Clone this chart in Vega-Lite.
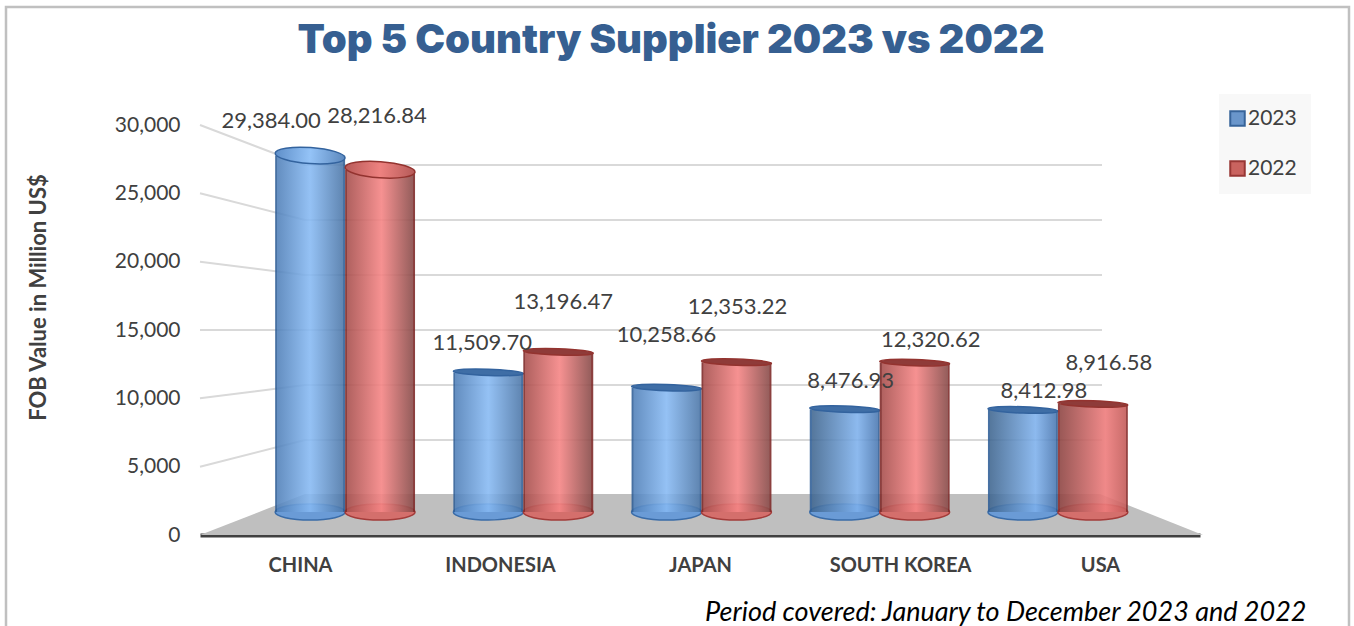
{
  "$schema": "https://vega.github.io/schema/vega-lite/v6.json",
  "autosize": {"type": "none"},
  "padding": {"left": 200, "top": 125, "right": 154, "bottom": 91},
  "width": 1000,
  "height": 410,
  "background": "#ffffff",
  "title": {"text": "Top 5 Country Supplier 2023 vs 2022", "font": "Inter", "fontWeight": 900, "fontSize": 40, "color": "#365f91", "anchor": "middle", "dx": -29, "offset": -59},
  "config": {"view": {"stroke": null}, "font": "Lato"},
  "datasets": {
    "supply": [
      {"country": "CHINA", "year": "2023", "value": 29384.00},
      {"country": "CHINA", "year": "2022", "value": 28216.84},
      {"country": "INDONESIA", "year": "2023", "value": 11509.70},
      {"country": "INDONESIA", "year": "2022", "value": 13196.47},
      {"country": "JAPAN", "year": "2023", "value": 10258.66},
      {"country": "JAPAN", "year": "2022", "value": 12353.22},
      {"country": "SOUTH KOREA", "year": "2023", "value": 8476.93},
      {"country": "SOUTH KOREA", "year": "2022", "value": 12320.62},
      {"country": "USA", "year": "2023", "value": 8412.98},
      {"country": "USA", "year": "2022", "value": 8916.58}
    ],
    "frame": [
      {"across": -194, "level": -6700, "order": 0},
      {"across": -194, "level": 38630, "order": 1},
      {"across": 1149, "level": 38630, "order": 2},
      {"across": 1149, "level": -6700, "order": 3}
    ],
    "floor": [
      {"across": 0, "level": 0, "base": 0},
      {"across": 105, "level": 3000, "base": 0},
      {"across": 900, "level": 3000, "base": 0},
      {"across": 1003, "level": 0, "base": 0}
    ],
    "walls": [
      {"tick": 5000, "across": 0, "level": 5000}, {"tick": 5000, "across": 105, "level": 6951}, {"tick": 5000, "across": 902, "level": 6951},
      {"tick": 10000, "across": 0, "level": 10000}, {"tick": 10000, "across": 105, "level": 10976}, {"tick": 10000, "across": 902, "level": 10976},
      {"tick": 15000, "across": 0, "level": 15000}, {"tick": 15000, "across": 105, "level": 15000}, {"tick": 15000, "across": 902, "level": 15000},
      {"tick": 20000, "across": 0, "level": 20000}, {"tick": 20000, "across": 105, "level": 19024}, {"tick": 20000, "across": 902, "level": 19024},
      {"tick": 25000, "across": 0, "level": 25000}, {"tick": 25000, "across": 105, "level": 23049}, {"tick": 25000, "across": 902, "level": 23049},
      {"tick": 30000, "across": 0, "level": 30000}, {"tick": 30000, "across": 105, "level": 27073}, {"tick": 30000, "across": 902, "level": 27073}
    ]
  },
  "resolve": {"scale": {"x": "independent", "y": "independent"}},
  "layer": [
    {
      "description": "Outer frame, floor, receding gridlines and the value axis",
      "encoding": {
        "x": {"field": "across", "type": "quantitative", "scale": {"domain": [0, 1000], "nice": false, "zero": false}, "axis": null},
        "y": {"field": "level", "type": "quantitative", "scale": {"domain": [0, 30000], "nice": false, "zero": false},
          "axis": {"title": "FOB Value in Million US$", "titleFont": "Lato", "titleFontSize": 22, "titleFontWeight": "bold", "titleColor": "#404040", "titleX": -150, "titleY": 172, "values": [0, 5000, 10000, 15000, 20000, 25000, 30000], "format": ",d", "labelFont": "Lato", "labelFontSize": 21, "labelColor": "#404040", "labelPadding": 20, "domain": false, "ticks": false, "grid": false}}
      },
      "layer": [
        {
          "data": {"name": "frame"},
          "mark": {"type": "line", "stroke": "#c0c0c0", "strokeWidth": 2.5, "clip": false},
          "encoding": {"order": {"field": "order"}}
        },
        {
          "data": {"name": "walls"},
          "mark": {"type": "line", "stroke": "#d9d9d9", "strokeWidth": 2},
          "encoding": {"detail": {"field": "tick"}, "order": {"field": "across"}}
        },
        {
          "data": {"name": "floor"},
          "mark": {"type": "area", "color": "#bfbfbf"},
          "encoding": {"y2": {"field": "base"}}
        }
      ]
    },
    {
      "description": "Category axis, footnote and legend",
      "data": {"name": "supply"},
      "mark": {"type": "point", "shape": "square", "filled": true, "opacity": 0},
      "encoding": {
        "x": {"field": "country", "type": "nominal", "sort": null, "scale": {"domain": ["CHINA", "INDONESIA", "JAPAN", "SOUTH KOREA", "USA"], "paddingInner": 0, "paddingOuter": 0},
          "axis": {"title": "Period covered: January to December 2023 and 2022", "titleFont": "Lato", "titleFontStyle": "italic", "titleFontWeight": "normal", "titleFontSize": 27, "titleColor": "#000000", "titleAlign": "right", "titleAnchor": "end", "titleBaseline": "alphabetic", "titleX": 1106, "titleY": 85, "labelAngle": 0, "labelFont": "Lato", "labelFontWeight": "bold", "labelFontSize": 20, "labelColor": "#404040", "labelPadding": 20, "ticks": false, "domainColor": "#404040", "domainWidth": 4, "grid": false}},
        "fill": {"field": "year", "type": "nominal", "scale": {"domain": ["2023", "2022"], "range": ["#6a96cb", "#c9635f"]},
          "legend": {"title": null, "orient": "none", "legendX": 1019, "legendY": -31, "fillColor": "#f8f8f8", "padding": 14, "rowPadding": 27, "symbolType": "square", "symbolSize": 210, "symbolOpacity": 1, "symbolStrokeWidth": 2, "labelFont": "Lato", "labelFontSize": 21, "labelColor": "#404040", "labelOffset": 0, "symbolOffset": -6}},
        "stroke": {"field": "year", "type": "nominal", "scale": {"domain": ["2023", "2022"], "range": ["#37649a", "#983735"]}, "legend": null}
      }
    },
    {
      "description": "Cylinders and their value labels",
      "data": {"name": "supply"},
      "encoding": {
        "x": {"field": "country", "type": "nominal", "sort": null, "axis": null, "scale": {"domain": ["CHINA", "INDONESIA", "JAPAN", "SOUTH KOREA", "USA"], "range": [56, 947], "paddingInner": 0.215, "paddingOuter": 0.1075}},
        "xOffset": {"field": "year", "type": "nominal", "scale": {"type": "band", "domain": ["2023", "2022"], "paddingInner": 0, "paddingOuter": 0}},
        "y": {"field": "value", "type": "quantitative", "axis": null, "stack": null, "scale": {"domain": [-1896, 31904], "nice": false, "zero": false}}
      },
      "layer": [
        {
          "transform": [{"filter": "datum.year === '2023'"}],
          "layer": [
            {"mark": {"type": "point", "filled": true, "size": 4900, "shape": "M-1,0A1,0.23,0,1,1,1,0A1,0.23,0,1,1,-1,0Z", "opacity": 1, "strokeWidth": 1.5, "stroke": "#3a6ca8", "fill": "#6a9bd6"}, "encoding": {"y": {"datum": 0, "type": "quantitative"}}},
            {"mark": {"type": "bar", "opacity": 0.88},
              "encoding": {"y2": {"datum": 0},
                "fill": {"condition": {"test": "datum.country === 'USA' || datum.country === 'SOUTH KOREA'", "value": {"gradient": "linear", "x1": 0, "x2": 1, "y1": 0, "y2": 0, "stops": [{"offset": 0, "color": "#2f5e96"}, {"offset": 0.025, "color": "#2f5e96"}, {"offset": 0.03, "color": "#3e658f"}, {"offset": 0.68, "color": "#7db0ec"}, {"offset": 0.97, "color": "#4a78b2"}, {"offset": 0.975, "color": "#2f5e96"}, {"offset": 1, "color": "#2f5e96"}]}},
                  "value": {"gradient": "linear", "x1": 0, "x2": 1, "y1": 0, "y2": 0, "stops": [{"offset": 0, "color": "#2f5e96"}, {"offset": 0.025, "color": "#2f5e96"}, {"offset": 0.03, "color": "#4f7fb8"}, {"offset": 0.5, "color": "#86b9f3"}, {"offset": 0.97, "color": "#4b76a8"}, {"offset": 0.975, "color": "#2f5e96"}, {"offset": 1, "color": "#2f5e96"}]}}}},
            {"mark": {"type": "point", "filled": true, "size": 4900, "opacity": 1, "strokeWidth": 1.5, "stroke": "#33639e"},
              "encoding": {
                "angle": {"condition": {"test": "datum.country === 'CHINA'", "value": 4}, "value": 2},
                "shape": {"condition": {"test": "datum.country === 'CHINA'", "value": "M-1,0A1,0.23,0,1,1,1,0A1,0.23,0,1,1,-1,0Z"}, "value": "M-1,0A1,0.09,0,1,1,1,0A1,0.09,0,1,1,-1,0Z"},
                "fill": {"condition": {"test": "datum.country === 'CHINA'", "value": {"gradient": "linear", "x1": 0, "x2": 1, "y1": 0, "y2": 0, "stops": [{"offset": 0, "color": "#5f8fc9"}, {"offset": 0.5, "color": "#94c3f7"}, {"offset": 1, "color": "#5c88bd"}]}}, "value": "#3f6ea6"}
              }}
          ]
        },
        {
          "transform": [{"filter": "datum.year === '2022'"}],
          "layer": [
            {"mark": {"type": "point", "filled": true, "size": 4900, "shape": "M-1,0A1,0.23,0,1,1,1,0A1,0.23,0,1,1,-1,0Z", "opacity": 1, "strokeWidth": 1.5, "stroke": "#a33c3a", "fill": "#d46f6c"}, "encoding": {"y": {"datum": 0, "type": "quantitative"}}},
            {"mark": {"type": "bar", "opacity": 0.9},
              "encoding": {"y2": {"datum": 0},
                "fill": {"condition": {"test": "datum.country === 'USA'", "value": {"gradient": "linear", "x1": 0, "x2": 1, "y1": 0, "y2": 0, "stops": [{"offset": 0, "color": "#8a2f2e"}, {"offset": 0.025, "color": "#8a2f2e"}, {"offset": 0.03, "color": "#8f4644"}, {"offset": 0.68, "color": "#ee7c7c"}, {"offset": 0.97, "color": "#c45c5a"}, {"offset": 0.975, "color": "#8a2f2e"}, {"offset": 1, "color": "#8a2f2e"}]}},
                  "value": {"gradient": "linear", "x1": 0, "x2": 1, "y1": 0, "y2": 0, "stops": [{"offset": 0, "color": "#7f2b2a"}, {"offset": 0.025, "color": "#7f2b2a"}, {"offset": 0.03, "color": "#a8504e"}, {"offset": 0.52, "color": "#f58585"}, {"offset": 0.97, "color": "#8a4c4a"}, {"offset": 0.975, "color": "#7f2b2a"}, {"offset": 1, "color": "#7f2b2a"}]}}}},
            {"mark": {"type": "point", "filled": true, "size": 4900, "opacity": 1, "strokeWidth": 1.5, "stroke": "#93332f"},
              "encoding": {
                "angle": {"condition": {"test": "datum.country === 'CHINA'", "value": 4}, "value": 2},
                "shape": {"condition": {"test": "datum.country === 'CHINA'", "value": "M-1,0A1,0.23,0,1,1,1,0A1,0.23,0,1,1,-1,0Z"}, "value": "M-1,0A1,0.09,0,1,1,1,0A1,0.09,0,1,1,-1,0Z"},
                "fill": {"condition": {"test": "datum.country === 'CHINA'", "value": {"gradient": "linear", "x1": 0, "x2": 1, "y1": 0, "y2": 0, "stops": [{"offset": 0, "color": "#b85a58"}, {"offset": 0.5, "color": "#ee8280"}, {"offset": 1, "color": "#b55a58"}]}}, "value": "#8f3b39"}
              }}
          ]
        },
        {"transform": [{"filter": "datum.country === 'CHINA' && datum.year === '2023'"}], "mark": {"type": "text", "font": "Lato", "fontSize": 22, "color": "#404040", "dx": -39, "dy": -35}, "encoding": {"text": {"field": "value", "type": "quantitative", "format": ",.2f"}}},
        {"transform": [{"filter": "datum.country === 'CHINA' && datum.year === '2022'"}], "mark": {"type": "text", "font": "Lato", "fontSize": 22, "color": "#404040", "dx": -3, "dy": -54}, "encoding": {"text": {"field": "value", "type": "quantitative", "format": ",.2f"}}},
        {"transform": [{"filter": "datum.country === 'INDONESIA' && datum.year === '2023'"}], "mark": {"type": "text", "font": "Lato", "fontSize": 22, "color": "#404040", "dx": -6, "dy": -29}, "encoding": {"text": {"field": "value", "type": "quantitative", "format": ",.2f"}}},
        {"transform": [{"filter": "datum.country === 'INDONESIA' && datum.year === '2022'"}], "mark": {"type": "text", "font": "Lato", "fontSize": 22, "color": "#404040", "dx": 5, "dy": -50}, "encoding": {"text": {"field": "value", "type": "quantitative", "format": ",.2f"}}},
        {"transform": [{"filter": "datum.country === 'JAPAN' && datum.year === '2023'"}], "mark": {"type": "text", "font": "Lato", "fontSize": 22, "color": "#404040", "dx": 0, "dy": -53}, "encoding": {"text": {"field": "value", "type": "quantitative", "format": ",.2f"}}},
        {"transform": [{"filter": "datum.country === 'JAPAN' && datum.year === '2022'"}], "mark": {"type": "text", "font": "Lato", "fontSize": 22, "color": "#404040", "dx": 1, "dy": -55}, "encoding": {"text": {"field": "value", "type": "quantitative", "format": ",.2f"}}},
        {"transform": [{"filter": "datum.country === 'SOUTH KOREA' && datum.year === '2023'"}], "mark": {"type": "text", "font": "Lato", "fontSize": 22, "color": "#404040", "dx": 6, "dy": -28}, "encoding": {"text": {"field": "value", "type": "quantitative", "format": ",.2f"}}},
        {"transform": [{"filter": "datum.country === 'SOUTH KOREA' && datum.year === '2022'"}], "mark": {"type": "text", "font": "Lato", "fontSize": 22, "color": "#404040", "dx": 16, "dy": -23}, "encoding": {"text": {"field": "value", "type": "quantitative", "format": ",.2f"}}},
        {"transform": [{"filter": "datum.country === 'USA' && datum.year === '2023'"}], "mark": {"type": "text", "font": "Lato", "fontSize": 22, "color": "#404040", "dx": 21, "dy": -19}, "encoding": {"text": {"field": "value", "type": "quantitative", "format": ",.2f"}}},
        {"transform": [{"filter": "datum.country === 'USA' && datum.year === '2022'"}], "mark": {"type": "text", "font": "Lato", "fontSize": 22, "color": "#404040", "dx": 16, "dy": -41}, "encoding": {"text": {"field": "value", "type": "quantitative", "format": ",.2f"}}}
      ]
    }
  ]
}
